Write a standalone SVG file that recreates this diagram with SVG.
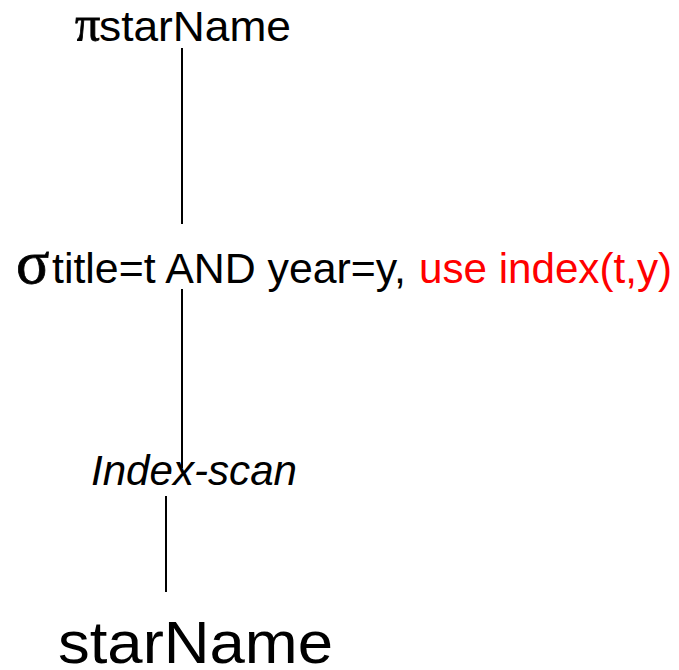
<svg xmlns="http://www.w3.org/2000/svg" width="679" height="670" viewBox="0 0 679 670">
  <style>
    .sans { font-family: "Liberation Sans", Arial, sans-serif; fill: #000; }
    .greek { font-family: "Liberation Serif", "Times New Roman", serif; fill: #000; stroke: #000; stroke-width: 0.8; }
    .hl { fill: #ff0000; }
    .edge { stroke: #000; stroke-width: 2; fill: none; }
  </style>
  <rect width="679" height="670" fill="#fff"/>

  <!-- tree edges -->
  <g id="connectors">
    <line class="edge" x1="182" y1="48" x2="182" y2="224"/>
    <line class="edge" x1="182" y1="289" x2="182" y2="468"/>
    <line class="edge" x1="166" y1="496" x2="166" y2="592"/>
  </g>

  <!-- projection -->
  <g id="project">
    <text class="greek" x="75" y="41" font-size="50">π</text>
    <text class="sans" x="99" y="41" font-size="42" textLength="192" lengthAdjust="spacingAndGlyphs">starName</text>
  </g>

  <!-- selection -->
  <g id="select">
    <text class="greek" x="16" y="283" font-size="62">σ</text>
    <text class="sans" x="52" y="283" font-size="42" textLength="354" lengthAdjust="spacingAndGlyphs">title=t AND year=y,</text>
    <text class="sans hl" x="419" y="283" font-size="42" textLength="253" lengthAdjust="spacingAndGlyphs">use index(t,y)</text>
  </g>

  <!-- access method -->
  <g id="scan">
    <text class="sans" x="91" y="485" font-size="42" font-style="italic" textLength="206" lengthAdjust="spacingAndGlyphs">Index-scan</text>
  </g>

  <!-- relation -->
  <g id="relation">
    <text class="sans" x="58" y="663" font-size="60" textLength="275" lengthAdjust="spacingAndGlyphs">starName</text>
  </g>
</svg>
